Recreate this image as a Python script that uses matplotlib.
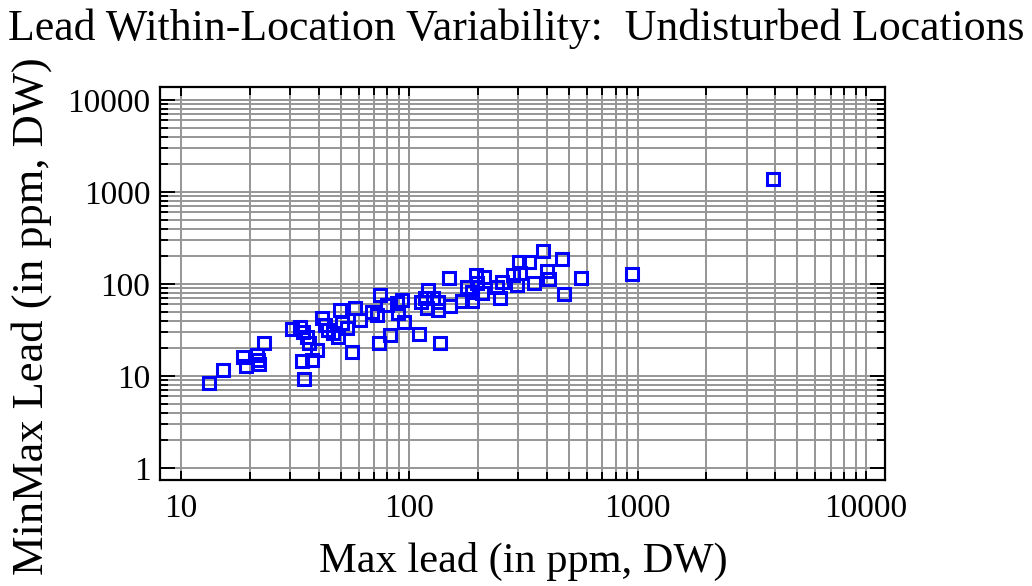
import matplotlib
matplotlib.use("Agg")
import matplotlib.pyplot as plt
from matplotlib.ticker import FixedLocator, NullFormatter

# Max lead (x) and MinMax lead (y), ppm DW
max_lead = [13.3, 15.2, 18.6, 19.3, 21.5, 21.8, 22.0, 23.2, 30.6, 33.3,
            34.3, 35.6, 36.2, 39.4, 33.8, 37.4, 34.5, 41.4, 42.8, 44.1,
            46.4, 48.8, 50.7, 49.8, 57.9, 61.0, 56.1, 68.6, 72.2, 73.3,
            82.6, 79.8, 88.3, 94.4, 89.5, 92.9, 110, 136, 149, 121,
            117, 127, 113, 120, 134, 133, 151, 170, 188, 179,
            195, 198, 213, 208, 188, 241, 255, 249, 283, 304,
            301, 297, 334, 351, 385, 402, 407, 467, 477, 562,
            946, 3920, 53.5, 74.6]
minmax_lead = [8.5, 11.6, 16.1, 13.0, 16.9, 14.9, 13.5, 22.9, 32.8, 33.7,
               30.1, 26.5, 22.6, 19.2, 14.6, 14.9, 9.2, 42.4, 35.8, 31.6,
               29.4, 26.7, 37.4, 52.2, 54.6, 40.6, 18.4, 50.0, 46.0, 22.6,
               27.9, 59.1, 61.7, 38.9, 48.4, 67.0, 28.3, 23.1, 116, 86.1,
               70.5, 70.5, 63.7, 54.8, 52.2, 63.7, 57.7, 64.6, 64.6, 93.5,
               124, 102, 120, 79.3, 82.4, 93.5, 106, 71.3, 125, 132,
               173, 97.5, 175, 102, 230, 138, 113, 185, 77.3, 116,
               127, 1384, 33.3, 75.9]

x_ticks = [10, 100, 1000, 10000]
y_ticks = [1, 10, 100, 1000, 10000]

serif = "Liberation Serif"

# minor ticks only inside the labelled decades
x_minor = [m * 10 ** d for d in range(1, 4) for m in range(2, 10)]
y_minor = [m * 10 ** d for d in range(0, 4) for m in range(2, 10)]

fig = plt.figure(figsize=(10.32, 5.86), dpi=100)
ax = fig.add_axes([160 / 1032, 1 - 480 / 586, 725 / 1032, 393 / 586])

ax.set_xscale("log")
ax.set_yscale("log")
ax.set_xlim(8.09, 12100)
ax.set_ylim(10 ** -0.13, 10 ** 4.141)

ax.xaxis.set_major_locator(FixedLocator(x_ticks))
ax.yaxis.set_major_locator(FixedLocator(y_ticks))
ax.xaxis.set_minor_locator(FixedLocator(x_minor))
ax.yaxis.set_minor_locator(FixedLocator(y_minor))
ax.xaxis.set_minor_formatter(NullFormatter())
ax.yaxis.set_minor_formatter(NullFormatter())
ax.set_xticklabels([str(v) for v in x_ticks])
ax.set_yticklabels([str(v) for v in y_ticks])

ax.grid(True, which="both", color="#969696", linewidth=1.4)
ax.set_axisbelow(True)

ax.tick_params(which="both", direction="in", top=True, right=True, width=1.4, colors="black")
ax.tick_params(axis="y", which="major", length=10.5, pad=7)
ax.tick_params(axis="y", which="minor", length=5.5)
ax.tick_params(axis="x", which="major", length=6.5, pad=10)
ax.tick_params(axis="x", which="minor", length=6.0)
for lab in ax.get_xticklabels() + ax.get_yticklabels():
    lab.set_fontfamily(serif)
    lab.set_fontsize(24)

for s in ax.spines.values():
    s.set_linewidth(1.6)
    s.set_color("black")

ax.plot(max_lead, minmax_lead, linestyle="none", marker="s", markersize=8.3,
        markerfacecolor="none", markeredgecolor="#0000ff", markeredgewidth=2.2)

fig.text(0.5, 1 - 40 / 586, "Lead Within-Location Variability:  Undisturbed Locations",
         ha="center", va="baseline", fontsize=31.6, family=serif)
fig.text(523 / 1032, 1 - 572 / 586, "Max lead (in ppm, DW)",
         ha="center", va="baseline", fontsize=30.5, family=serif)
fig.text(32 / 1032, 1 - 316 / 586, "MinMax Lead (in ppm, DW)", rotation=90,
         ha="center", va="center", fontsize=32, family=serif)

fig.savefig("out.png", dpi=100)
